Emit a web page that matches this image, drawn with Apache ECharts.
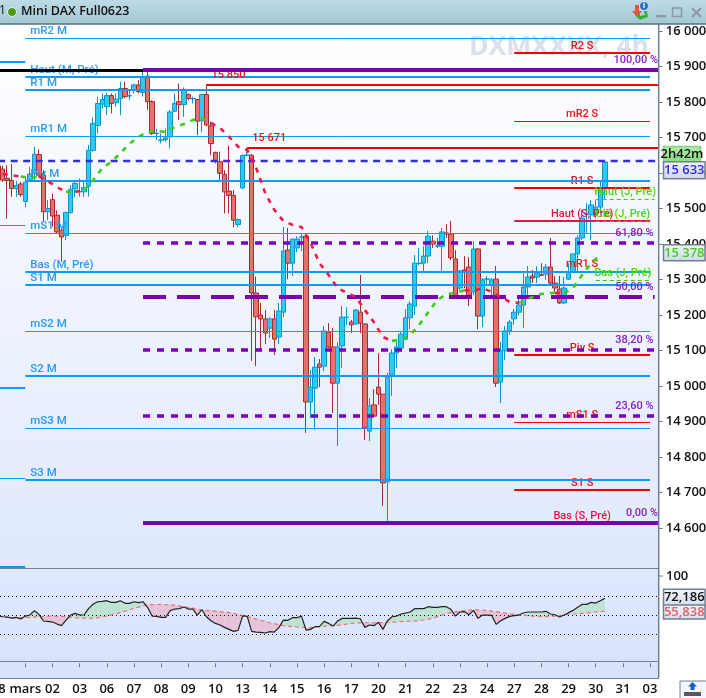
<!DOCTYPE html>
<html><head><meta charset="utf-8">
<style>html,body{margin:0;padding:0;background:#fff;overflow:hidden}#c{width:706px;height:698px}</style>
<script src="https://cdn.jsdelivr.net/npm/echarts@6/dist/echarts.min.js"></script>
</head><body><div id="c"></div>
<script>
const dayLabels=['28','mars','02','03','06','07','08','09','10','13','14','15','16','17','20','21','22','23','24','27','28','29','30','31','03'];
const priceTicks=[14600,14700,14800,14900,15000,15100,15200,15300,15400,15500,15600,15700,15800,15900,16000];
// open, close, low, high
const ohlc=[[15620,15600,15590,15630],[15611,15580,15575,15620],[15585,15579,15471,15622],[15579,15556,15533,15625],[15556,15565,15533,15578],[15569,15539,15533,15575],[15520,15574,15503,15589],[15580,15597,15575,15617],[15599,15653,15580,15674],[15652,15594,15589,15667],
[15594,15491,15463,15608],[15491,15500,15467,15524],[15525,15479,15449,15542],[15481,15434,15430,15495],[15439,15420,15350,15448],[15424,15489,15411,15491],[15488,15554,15486,15566],[15555,15571,15533,15575],[15547,15548,15533,15585],[15547,15559,15533,15580],
[15563,15664,15533,15679],[15664,15740,15660,15757],[15734,15796,15711,15815],[15794,15807,15782,15824],[15787,15818,15763,15826],[15818,15796,15768,15824],[15798,15808,15787,15824],[15809,15838,15763,15857],[15838,15815,15810,15857],[15817,15818,15805,15833],
[15833,15848,15824,15852],[15848,15829,15824,15862],[15827,15871,15815,15890],[15873,15801,15777,15885],[15801,15711,15707,15805],[15711,15712,15693,15725],[15692,15693,15683,15711],[15694,15699,15688,15725],[15702,15772,15669,15777],[15774,15796,15772,15824],
[15801,15792,15749,15852],[15793,15833,15758,15841],[15821,15810,15805,15824],[15809,15810,15796,15815],[15807,15746,15707,15809],[15747,15821,15714,15821],[15821,15735,15732,15849],[15733,15683,15650,15744],[15658,15633,15627,15660],[15632,15599,15580,15660],
[15596,15547,15486,15608],[15549,15537,15486,15677],[15537,15467,15447,15552],[15455,15469,15448,15472],[15558,15649,15555,15652],[15650,15651,15646,15671],[15650,15262,15071,15653],[15262,15195,15056,15308],[15200,15189,15104,15234],[15189,15149,15118,15214],
[15163,15189,15135,15194],[15189,15132,15087,15214],[15138,15211,15118,15234],[15208,15380,15194,15448],[15383,15346,15301,15445],[15346,15414,15310,15414],[15389,15414,15377,15422],[15419,15420,15380,15431],[15422,14955,14868,15425],[14955,14997,14910,15045],
[14994,15053,14876,15082],[15062,15053,14997,15076],[15056,15155,15042,15169],[15152,15110,15107,15177],[15110,15008,14924,15163],[15008,15110,14831,15124],[15113,15194,15051,15225],[15193,15194,15172,15222],[15180,15172,15149,15186],[15175,15214,15172,15217],
[15208,15177,15149,15313],[15175,14882,14848,15175],[14873,14944,14845,14966],[14947,14915,14915,14991],[14997,14977,14947,15093],[14977,14727,14662,14977],[14730,15025,14620,15037],[15031,15093,14972,15104],[15093,15110,15051,15124],[15107,15146,15104,15155],
[15132,15192,15130,15217],[15192,15231,15160,15239],[15225,15346,15200,15369],[15345,15346,15340,15389],[15346,15366,15318,15394],[15366,15422,15346,15437],[15408,15400,15389,15425],[15394,15395,15389,15417],[15394,15434,15318,15445],[15431,15428,15417,15456],
[15428,15361,15355,15465],[15358,15256,15248,15383],[15276,15324,15270,15327],[15327,15324,15276,15366],[15335,15256,15225,15363],[15265,15386,15256,15408],[15386,15197,15160,15389],[15197,15299,15166,15304],[15301,15302,15284,15310],[15284,15299,15251,15304],
[15301,15008,14997,15338],[15011,15099,14952,15124],[15099,15155,15073,15169],[15155,15180,15144,15186],[15189,15208,15172,15217],[15208,15228,15200,15253],[15228,15279,15163,15318],[15279,15307,15253,15338],[15310,15304,15290,15327],[15307,15318,15290,15338],
[15313,15312,15310,15346],[15315,15335,15299,15344],[15335,15290,15284,15417],[15290,15276,15265,15310],[15273,15234,15231,15310],[15234,15276,15231,15307],[15301,15321,15299,15346],[15321,15372,15318,15372],[15372,15417,15321,15425],[15417,15473,15411,15496],
[15484,15486,15431,15515],[15482,15510,15411,15524],[15482,15504,15473,15524],[15504,15558,15487,15575],[15558,15631,15524,15631]];
// moving average read at every second candle (candle 1, 3, 5 ...)
const maValues=[15597,15594,15590,15586,15590,15577,15560,15547,15547,15552,15580,15614,15631,15656,15682,15702,15716,15718,15716,15730,15738,15749,15755,15741,15727,15702,15674,15665,15614,15543,15496,15465,15454,15448,15403,15346,15313,15276,15262,15251,15214,15180,15138,15127,15130,15144,15172,15208,15242,15259,15262,15270,15268,15276,15265,15251,15237,15234,15245,15256,15262,15262,15262,15276,15313,15346,15369];
const maUpRanges=[[5,9],[15,17],[19,47],[87,103],[115,123],[125,133]];
const maDownRanges=[[1,5],[9,15],[17,19],[47,87],[103,115],[123,125]];
const rsiValues=[50,48.9,48.6,47.5,48.2,46.5,49.6,50.7,55.3,51.4,44.4,44,43.3,41.2,39.5,45.4,50.7,52.5,50.7,51,57.7,62.3,64.7,65.1,65.8,64,64,65.8,63,63,64.7,63.7,64.7,58.8,49.6,49.3,48.2,48.2,55.3,57,57.4,59.1,57,57,50.7,56.3,48.9,44.7,41.9,40.2,37.7,35.6,33.5,34.6,49.6,49.6,33.5,32.8,32.5,31.8,33.2,32.8,37.4,45.4,45.1,47.9,47.9,49.6,34.9,35.6,38.4,38.8,44,41.9,39.1,44.4,47.2,47.2,47.2,47.5,46.8,37.7,40.2,39.5,43,35.6,44.7,48.9,49.6,51.8,52.8,53.9,57.4,57.4,57.4,59.5,58.8,58.8,59.5,59.5,56.7,49.6,53.9,54.2,51,55.6,47.2,50.7,50.7,50.4,40.9,44.7,47.2,49.3,50,50.7,52.8,53.9,53.9,53.9,53.9,54.6,51.8,51,48.6,50.7,53.2,55.6,58.8,61.9,61.9,64,63.3,65.8,68.2];
const rsiAvg=[49.6,49,48.4,47.9,47.9,47.9,47.9,48.2,48.6,48.9,49.1,49.4,49.6,49.4,49.1,48.9,48.4,47.9,47.5,47.4,47.3,47.2,47.9,48.8,49.6,50.8,52,53.2,54.7,56.2,57.7,59,60.3,61.6,61.7,61.8,61.9,61.7,61.4,61.2,60.4,59.6,58.8,57.9,57,56,55.6,55.2,54.9,54.3,53.8,53.2,52.3,51.3,50.4,49.1,47.8,46.5,45.2,43.9,42.6,41.6,40.5,39.5,39,38.5,38.1,37.9,37.6,37.4,37.9,38.3,38.8,39.1,39.5,39.8,40.5,41.2,41.9,42.1,42.4,42.6,42.6,42.6,42.6,42.8,43.1,43.3,43.5,43.8,44,44.2,44.5,44.7,45.5,46.4,47.2,49,50.7,52.5,53.3,54.1,54.9,55.4,55.8,56.3,56.1,55.8,55.6,54.9,54.2,53.5,52.8,52.1,51.4,50.9,50.5,50,49.6,49.3,48.9,49.1,49.4,49.6,50.2,50.8,51.4,51.8,52.1,52.5,52.9,53.4,53.9,54.4,54.9];
const rsiGuides=[70,50,30];
const monthlyNames=['mR2 M','Haut (M, Pré)','R1 M','mR1 M','Piv M','mS1 M','Bas (M, Pré)','S1 M','mS2 M','S2 M','mS3 M','S3 M'];
const monthlyValues=[15979,15870,15835,15703,15577,15430,15322,15284,15154,15028,14881,14735];
const previousMonthValues=[15913,15453,14994,14740,14490];
const weeklyNames=['R2 S','mR2 S','R1 S','Haut (S, Pré)','mR1 S','Piv S','mS1 S','S1 S','Bas (S, Pré)','mS2 S'];
const weeklyValues=[15939,15746,15559,15466,15323,15088,14898,14707,14614,14453];
const fibNames=['100,00 %','61,80 %','50,00 %','38,20 %','23,60 %','0,00 %'];
const fibValues=[15889,15403,15251,15101,14915,14614];
const dailyNames=['Haut (J, Pré)','Clô (J, Pré)','Bas (J, Pré)'];
const dailyValues=[15524,15463,15296];
const extremeNames=['15 850','15 671'];
const extremeValues=[15849,15671];
const extremeStarts=[46,55];
const blackLevel=15889;
const lastPrice=15633;
const priceTagValues=[15633,15633,15378];
const priceTagTexts=['2h42m','15 633','15 378'];
const rsiTagValues=[68.2,54.9];
const rsiTagTexts=['72,186','55,838'];

const SLOT=4.527, LEFT=-4.1;
const FONT='"Open Sans","Noto Sans",sans-serif';
const LFONT='Roboto,"Open Sans",sans-serif';
const categories=[];
dayLabels.forEach(d=>{categories.push(d);for(let i=0;i<5;i++)categories.push(' ');});
const N=categories.length;
const chart=echarts.init(document.getElementById('c'),null,{renderer:'canvas',width:706,height:698});
const G=echarts.graphic;
const PLOT_R=658.7;
const YOFF=PLOT_R-(LEFT+SLOT*N);

const BLUE='#0a9bff',RED='#f00000',PUR='#7a00b8',GRN='#44cc00';
const rows=[];
previousMonthValues.forEach((v,i)=>rows.push({a:0,b:6,v,c:BLUE,w:i%2?1:2}));
weeklyValues.forEach((v,i)=>{const n=weeklyNames[i],thin=n[0]==='m',bas=n.indexOf('Pré')>0;
  rows.push({a:114,b:144,v,c:bas?'#ee1144':(i===3?'#f00033':RED),w:thin?1:2,t:n,tc:(i===3||bas)?'#ee1144':'#f01010',anchor:'mid',fs:11});});
monthlyValues.forEach((v,i)=>{const n=monthlyNames[i];rows.push({a:6,b:144,v,c:BLUE,w:n[0]==='m'?1:2,t:n,tc:'#2a9bf0',anchor:'left',fs:11.5});});
rows.push({a:0,b:32,v:blackLevel,c:'#000',w:3});
rows.push({a:0,b:146,v:lastPrice,c:'#3030d8',w:2.5,dash:[7,5.5]});
extremeValues.forEach((v,i)=>rows.push({a:extremeStarts[i],b:146,v,c:RED,w:2,t:extremeNames[i],tc:'#f01010',anchor:'left',up:10,fs:11}));
const fibDash=[null,[7,7],[23,11],[7,7],[7,7],null];
fibValues.forEach((v,i)=>rows.push({a:32,b:(i===0||i===5)?146:145,v,c:PUR,w:(i===0||i===5)?4:(i===2?4:3.5),dash:fibDash[i],t:fibNames[i],tc:'#8a20c8',anchor:'right',up:10,fs:11}));
dailyValues.forEach((v,i)=>rows.push({a:132,b:i===0?145:144,v,c:GRN,w:1,dash:[4,3],t:dailyNames[i],tc:'#44dd00',anchor:'mid',fs:11}));

function levelItem(params,api){
  const r=rows[params.dataIndex];
  const p0=api.coord([r.a,r.v]),p1=api.coord([r.b,r.v]);
  let y=p0[1];
  y=(r.w%2===1)?Math.floor(y)+.5:Math.round(y);
  const ch=[{type:'line',shape:{x1:p0[0],y1:y,x2:p1[0],y2:y},style:{stroke:r.c,lineWidth:r.w,lineDash:r.dash||null},silent:true}];
  if(r.t){
    let tx=p0[0]+5,al='left';
    if(r.anchor==='mid'){tx=(p0[0]+p1[0])/2;al='center';}
    if(r.anchor==='right'){tx=p1[0]-1;al='right';}
    ch.push({type:'text',style:{x:tx,y:y-(r.up||7),text:r.t,fill:r.tc,font:'500 '+r.fs+'px '+LFONT,textAlign:al,textVerticalAlign:'middle'},silent:true});
  }
  return {type:'group',children:ch};
}
function tagItem(style){return function(params,api){
  const s=style[params.dataIndex];
  const y=api.coord([0,api.value(1)])[1]+s.shift;
  const h=s.h,top=y-h/2;
  return {type:'group',children:[
    {type:'rect',shape:{x:s.x||663.5,y:top,width:s.wd||41.5,height:h},style:{fill:new G.LinearGradient(0,0,0,1,[{offset:0,color:s.f0},{offset:1,color:s.f1}]),stroke:s.b,lineWidth:1.5}},
    {type:'text',style:{x:(s.x||663.5)+(s.wd||41.5)/2,y:y,text:s.text,fill:s.c,font:(s.w||'600')+' 13px '+FONT,textAlign:'center',textVerticalAlign:'middle'}}
  ]};
};}
function rsiFill(params,api){
  const i=params.dataIndex;
  if(i>=rsiValues.length-1||rsiAvg[i+1]==null)return null;
  const a0=rsiValues[i],a1=rsiValues[i+1],m0=rsiAvg[i],m1=rsiAvg[i+1];
  const P=(k,v)=>api.coord([k,v]);
  const col=d=>d>=0?'#bfe3d3':'#e6c2d6';
  const d0=a0-m0,d1=a1-m1;
  if(d0*d1>=0)return {type:'polygon',shape:{points:[P(i,a0),P(i+1,a1),P(i+1,m1),P(i,m0)]},style:{fill:col(d0+d1)}};
  const t=d0/(d0-d1),p0=P(i,a0),p1=P(i+1,a1),q0=P(i,m0),q1=P(i+1,m1);
  const cx=[p0[0]+(p1[0]-p0[0])*t,p0[1]+(p1[1]-p0[1])*t];
  return {type:'group',children:[
    {type:'polygon',shape:{points:[p0,cx,q0]},style:{fill:col(d0)}},
    {type:'polygon',shape:{points:[cx,p1,q1]},style:{fill:col(d1)}}]};
}
const maSeries=[];
function maSeg(ranges,color){ranges.forEach(([a,b])=>{
  const d=[];for(let i=0;i<maValues.length;i++){const k=1+2*i;if(k>=a&&k<=b)d.push([k,maValues[i]]);}
  maSeries.push({type:'line',xAxisIndex:0,yAxisIndex:0,data:d,showSymbol:false,z:3,silent:true,lineStyle:{color,width:2.6,type:[5,6]},animation:false});
});}
maSeg(maUpRanges,'#3ccc10');maSeg(maDownRanges,'#f01848');

chart.setOption({
  animation:false,
  textStyle:{fontFamily:FONT},
  grid:[{left:LEFT,width:SLOT*N,top:31,height:532.5,outerBoundsMode:'none'},{left:LEFT,width:SLOT*N,top:568.2,height:95,outerBoundsMode:'none'}],
  xAxis:[
    {type:'category',gridIndex:0,data:categories,show:false,boundaryGap:true},
    {type:'category',gridIndex:1,data:categories,boundaryGap:true,offset:15,z:50,
     axisLine:{show:false},
     axisTick:{show:true,alignWithLabel:true,length:4,interval:(i)=>i%6===0,lineStyle:{color:'#708090',width:1}},
     axisLabel:{interval:(i)=>i%6===0,color:'#111',fontSize:13,fontWeight:600,fontFamily:FONT,margin:5,hideOverlap:false,showMinLabel:true}}
  ],
  yAxis:[
    {type:'value',gridIndex:0,position:'right',offset:YOFF,min:14500,max:16000,z:50,scale:true,splitLine:{show:false},axisLine:{show:false},
     axisTick:{show:true,length:4,customValues:priceTicks,lineStyle:{color:'#708090',width:1}},
     axisLabel:{customValues:priceTicks,margin:7,color:'#111',fontSize:13,fontWeight:600,fontFamily:FONT,formatter:v=>String(v).replace(/(\d\d)(\d{3})$/,'$1 $2')}},
    {type:'value',gridIndex:1,position:'right',offset:YOFF,min:0,max:100,splitLine:{show:false},axisLine:{show:false},axisTick:{show:false},axisLabel:{show:false}}
  ],
  graphic:{elements:[
    {type:'rect',z:0,silent:true,shape:{x:0,y:24,width:PLOT_R,height:544},style:{fill:new G.LinearGradient(0,0,0,1,[{offset:0,color:'#ffffff'},{offset:1,color:'#dfe8fd'}])}},
    {type:'text',z:1,silent:true,style:{x:469,y:47,text:'DXMXXXX, 4h',fill:'#dcdfe9',font:'bold 26.5px "Open Sans",sans-serif',textVerticalAlign:'middle'}},
    {type:'rect',z:4,silent:true,shape:{x:0,y:568,width:PLOT_R,height:110},style:{fill:new G.LinearGradient(0,0,0,1,[{offset:0,color:'#dfe8fd'},{offset:1,color:'#d7e2fb'}])}},
    {type:'rect',z:40,silent:true,shape:{x:PLOT_R,y:24,width:50,height:674},style:{fill:'#fff'}},
    {type:'rect',z:40,silent:true,shape:{x:0,y:678,width:706,height:20},style:{fill:'#fff'}},
    {type:'line',z:45,silent:true,shape:{x1:0,y1:568.5,x2:PLOT_R,y2:568.5},style:{stroke:'#708090',lineWidth:1}},
    {type:'line',z:45,silent:true,shape:{x1:0,y1:661.5,x2:PLOT_R,y2:661.5},style:{stroke:'#708090',lineWidth:1}},
    {type:'line',z:45,silent:true,shape:{x1:0,y1:678.5,x2:PLOT_R,y2:678.5},style:{stroke:'#708090',lineWidth:1}},
    {type:'line',z:45,silent:true,shape:{x1:PLOT_R,y1:24,x2:PLOT_R,y2:678},style:{stroke:'#708090',lineWidth:1.5}},
    {type:'line',z:55,silent:true,shape:{x1:PLOT_R,y1:576,x2:663,y2:576},style:{stroke:'#708090',lineWidth:1}},
    {type:'text',z:55,silent:true,style:{x:666,y:576,text:'100',fill:'#111',font:'600 13px '+FONT,textVerticalAlign:'middle'}},
    {type:'rect',z:70,silent:true,shape:{x:0,y:0,width:706,height:24},style:{fill:new G.LinearGradient(0,0,0,1,[{offset:0,color:'#bcdbe6'},{offset:1,color:'#a4c6d3'}])}},
    {type:'line',z:71,silent:true,shape:{x1:0,y1:24,x2:706,y2:24},style:{stroke:'#54707e',lineWidth:1.5}},
    {type:'text',z:71,silent:true,style:{x:-1,y:11,text:'1',fill:'#111',font:'500 12px '+FONT,textVerticalAlign:'middle'}},
    {type:'circle',z:71,silent:true,shape:{cx:12,cy:12,r:4.5},style:{fill:'#4a9a10',stroke:'#e8f0f0',lineWidth:1}},
    {type:'text',z:71,silent:true,style:{x:21,y:11,text:'Mini DAX Full0623',fill:'#111',font:'600 12.5px '+FONT,textVerticalAlign:'middle'}},
    {type:'polygon',z:71,silent:true,shape:{points:[[632,11],[637,17],[642,11],[639,11],[639,5],[635,5],[635,11]]},style:{fill:'#ee5040'}},
    {type:'polygon',z:71,silent:true,shape:{points:[[640,20],[635,15],[640,14],[640,16],[645,15],[644,11],[647,11],[648,17],[642,19]]},style:{fill:'#30b030'}},
    {type:'circle',z:72,silent:true,shape:{cx:644,cy:6,r:4.5},style:{fill:'#2a70c8',stroke:'#dfeaf0',lineWidth:.8}},
    {type:'text',z:73,silent:true,style:{x:644,y:6,text:'i',fill:'#fff',font:'bold 8px '+FONT,textAlign:'center',textVerticalAlign:'middle'}},
    {type:'rect',z:71,silent:true,shape:{x:656,y:15,width:10,height:2.5},style:{fill:'#8a9aa6'}},
    {type:'rect',z:71,silent:true,shape:{x:672.5,y:8,width:9,height:8.5},style:{fill:'none',stroke:'#8a9aa6',lineWidth:1.5}},
    {type:'line',z:71,silent:true,shape:{x1:692,y1:8,x2:701,y2:17},style:{stroke:'#8a9aa6',lineWidth:2}},
    {type:'line',z:71,silent:true,shape:{x1:701,y1:8,x2:692,y2:17},style:{stroke:'#8a9aa6',lineWidth:2}},
    {type:'rect',z:71,silent:true,shape:{x:680,y:681,width:27,height:20},style:{fill:'#f4f6fa',stroke:'#708090',lineWidth:1}},
    {type:'polygon',z:72,silent:true,shape:{points:[[692.5,682],[697,686.5],[694.5,686.5],[694.5,690],[690.5,690],[690.5,686.5],[688,686.5]]},style:{fill:'#1060c0'}},
    {type:'rect',z:72,silent:true,shape:{x:684,y:692,width:17,height:4},style:{fill:'#556'}}
  ]},
  series:[
    {type:'candlestick',xAxisIndex:0,yAxisIndex:0,data:ohlc,z:2,barWidth:5,silent:true,clip:true,
     itemStyle:{color:'#2ccbf4',color0:'#e5726a',borderColor:'#0b95cc',borderColor0:'#a82c2c',borderWidth:1}},
    {type:'custom',xAxisIndex:0,yAxisIndex:0,z:3,clip:false,silent:true,renderItem:levelItem,data:rows.map(r=>[r.a,r.v])},
    ...maSeries,
    {type:'custom',xAxisIndex:1,yAxisIndex:1,z:5,silent:true,clip:false,renderItem:rsiFill,data:rsiValues.map((v,i)=>[i,v])},
    {type:'custom',xAxisIndex:1,yAxisIndex:1,z:6,silent:true,clip:false,data:rsiGuides.map(v=>[0,v]),
     renderItem:(p,api)=>{const y=Math.floor(api.coord([0,api.value(1)])[1])+.5;return {type:'line',shape:{x1:0,y1:y,x2:PLOT_R,y2:y},style:{stroke:'#111',lineWidth:1,lineDash:[1,3]}};}},
    {type:'line',xAxisIndex:1,yAxisIndex:1,data:rsiAvg,showSymbol:false,z:6,silent:true,lineStyle:{color:'#ee7070',width:1.2,type:[4,3]}},
    {type:'line',xAxisIndex:1,yAxisIndex:1,data:rsiValues,showSymbol:false,z:7,silent:true,lineStyle:{color:'#222',width:1.2}},
    {type:'custom',xAxisIndex:0,yAxisIndex:0,z:60,silent:true,clip:false,data:priceTagValues.map((v,i)=>[0,v]),
     renderItem:tagItem([
       {text:priceTagTexts[0],shift:-7,h:15.5,f0:'#b2eea6',f1:'#82dd80',b:'#88d088',c:'#111',w:'600',wd:37},
       {text:priceTagTexts[1],shift:9,h:17,f0:'#f2f4fc',f1:'#ccd6ee',b:'#708090',c:'#3030e0'},
       {text:priceTagTexts[2],shift:1,h:16,f0:'#f2f6f8',f1:'#ccd8e8',b:'#708090',c:'#44cc22'}])},
    {type:'custom',xAxisIndex:1,yAxisIndex:1,z:60,silent:true,clip:false,data:rsiTagValues.map((v,i)=>[0,v]),
     renderItem:tagItem([
       {text:rsiTagTexts[0],shift:-1,h:16.5,f0:'#f4f6fc',f1:'#d4dcf0',b:'#708090',c:'#111',w:'600'},
       {text:rsiTagTexts[1],shift:1,h:14,f0:'#f4f6fc',f1:'#d4dcf0',b:'#708090',c:'#e86060'}])}
  ]
});
</script></body></html>
